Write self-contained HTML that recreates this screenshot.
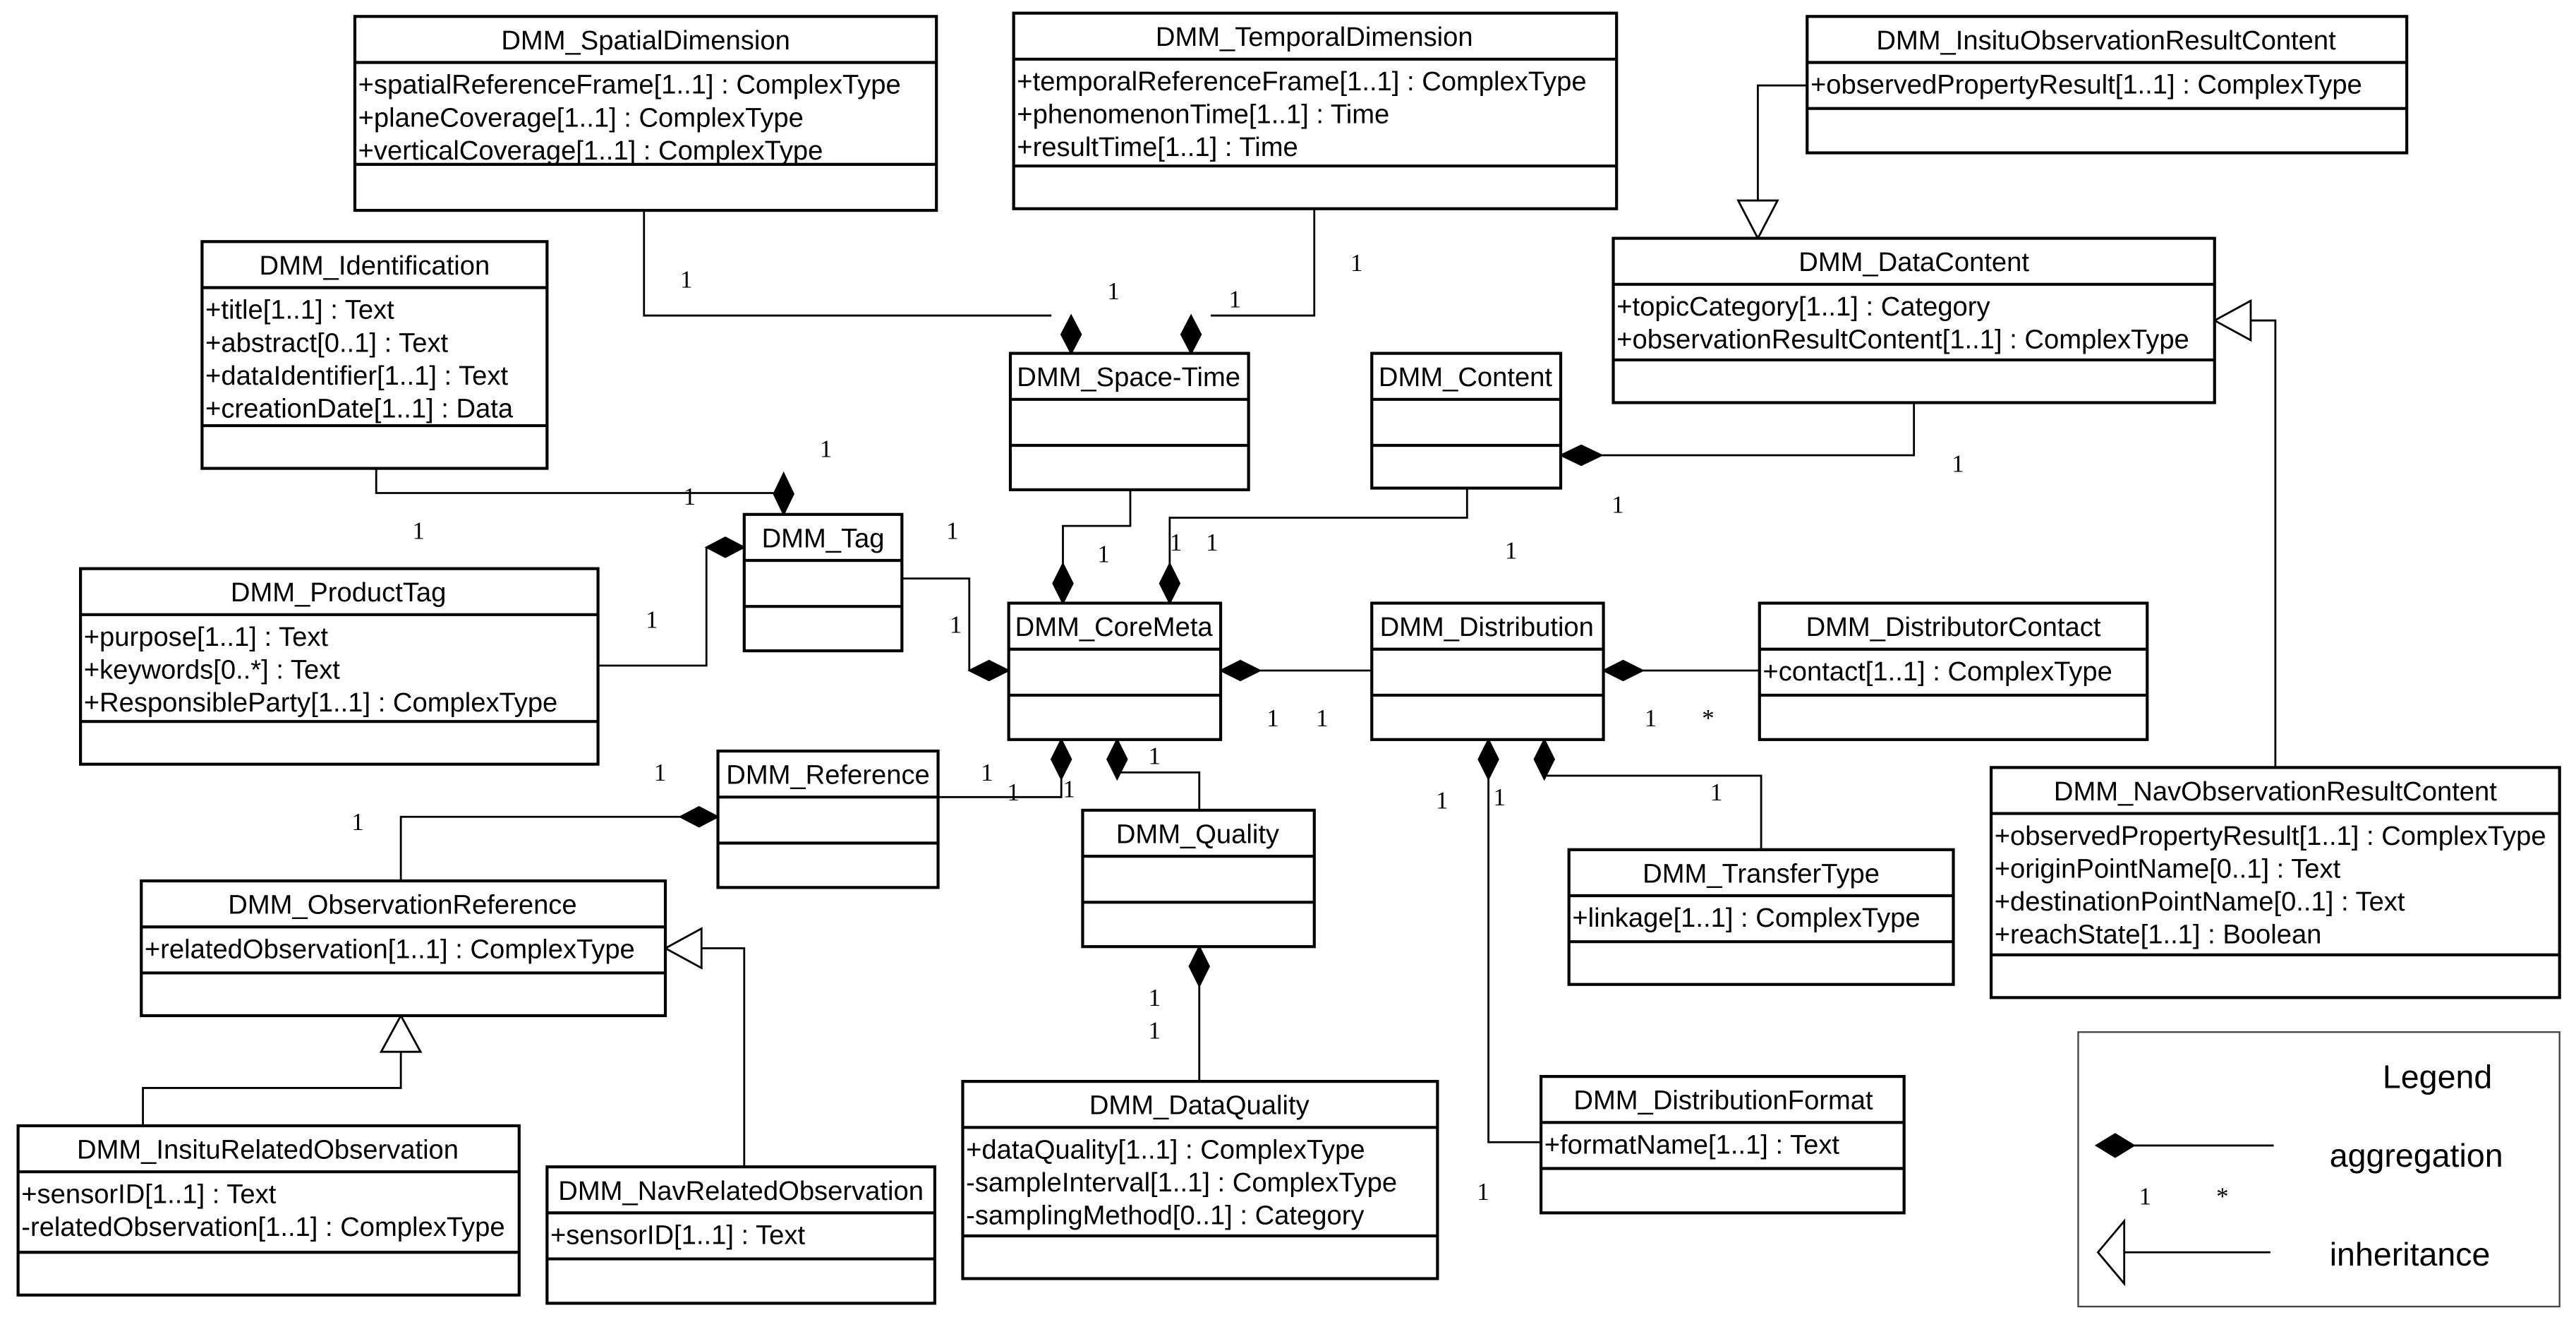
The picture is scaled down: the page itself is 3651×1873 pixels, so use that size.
<!DOCTYPE html>
<html><head><meta charset="utf-8"><style>
html,body{margin:0;padding:0;background:#fff;}
svg{display:block;}
text{font-family:"Liberation Sans",Arial,sans-serif;font-size:16.4px;fill:#000;}
.m{font-family:"Liberation Serif",serif;font-size:15px;}
.b{fill:#fff;stroke:#000;stroke-width:1.8;}
.d{stroke:#000;stroke-width:1.8;}
.l{fill:none;stroke:#000;stroke-width:1.2;}
.dm{fill:#000;stroke:#000;stroke-width:1;}
.tr{fill:#fff;stroke:#000;stroke-width:1.2;}
</style></head><body>
<svg width="3651" height="1873" viewBox="0 0 1568 804.4" xmlns="http://www.w3.org/2000/svg">
<!-- connectors -->
<polyline class="l" points="392,128 392,192 640,192"/>
<polygon class="dm" points="652,192 658,203.5 652,215 646,203.5"/>
<polyline class="l" points="800,127 800,192 737,192"/>
<polygon class="dm" points="725,192 731,203.5 725,215 719,203.5"/>
<polyline class="l" points="1100,52 1070,52 1070,122"/>
<polygon class="tr" points="1070,145 1058,122 1082,122"/>
<polyline class="l" points="1165,245 1165,277 975,277"/>
<polygon class="dm" points="950,277 962.5,271 975,277 962.5,283"/>
<polyline class="l" points="1385,467 1385,195 1370,195"/>
<polygon class="tr" points="1348,195 1370,183 1370,207"/>
<polyline class="l" points="229,285 229,300 471,300"/>
<polygon class="dm" points="477,288 483,300.5 477,313 471,300.5"/>
<polyline class="l" points="364,405 430,405 430,333"/>
<polygon class="dm" points="430,333 441.5,327 453,333 441.5,339"/>
<polyline class="l" points="549,352 590,352 590,408"/>
<polygon class="dm" points="590,408 602,402 614,408 602,414"/>
<polyline class="l" points="688,298 688,320 647,320 647,343"/>
<polygon class="dm" points="647,343 653,355 647,367 641,355"/>
<polyline class="l" points="893,297 893,315 712,315 712,343"/>
<polygon class="dm" points="712,343 718,355 712,367 706,355"/>
<polyline class="l" points="835,408 767,408"/>
<polygon class="dm" points="743,408 755,402 767,408 755,414"/>
<polyline class="l" points="1071,408 1000,408"/>
<polygon class="dm" points="976,408 988,402 1000,408 988,414"/>
<polyline class="l" points="571,485 646,485 646,474"/>
<polygon class="dm" points="646,450 652,462 646,474 640,462"/>
<polyline class="l" points="730,493 730,470 680,470"/>
<polygon class="dm" points="680,450 686,462 680,474 674,462"/>
<polyline class="l" points="244,536 244,497 414,497"/>
<polygon class="dm" points="414,497 425.5,491 437,497 425.5,503"/>
<polyline class="l" points="730,658 730,600"/>
<polygon class="dm" points="730,576 736,588 730,600 724,588"/>
<polyline class="l" points="906,474 906,695 938,695"/>
<polygon class="dm" points="906,450 912,462 906,474 900,462"/>
<polyline class="l" points="940,474 940,472 1072,472 1072,517"/>
<polygon class="dm" points="940,450 946,462 940,474 934,462"/>
<polyline class="l" points="87,685 87,662 244,662 244,640"/>
<polygon class="tr" points="244,618 232,640 256,640"/>
<polyline class="l" points="453,710 453,577 427,577"/>
<polygon class="tr" points="405,577 427,565 427,589"/>
<!-- multiplicities -->
<g class="m">
<text class="m" x="414" y="175">1</text><text class="m" x="674" y="182">1</text>
<text class="m" x="822" y="165">1</text><text class="m" x="748" y="187">1</text>
<text class="m" x="1188" y="287">1</text><text class="m" x="981" y="312">1</text>
<text class="m" x="499" y="278">1</text><text class="m" x="416" y="307">1</text><text class="m" x="251" y="328">1</text>
<text class="m" x="393" y="382">1</text>
<text class="m" x="576" y="328">1</text><text class="m" x="578" y="385">1</text>
<text class="m" x="668" y="342">1</text><text class="m" x="712" y="335">1</text><text class="m" x="734" y="335">1</text><text class="m" x="916" y="340">1</text>
<text class="m" x="771" y="442">1</text><text class="m" x="801" y="442">1</text>
<text class="m" x="1001" y="442">1</text><text class="m" x="1036" y="442">*</text>
<text class="m" x="597" y="475">1</text><text class="m" x="613" y="487">1</text><text class="m" x="647" y="485">1</text>
<text class="m" x="699" y="465">1</text>
<text class="m" x="214" y="505">1</text><text class="m" x="398" y="475">1</text>
<text class="m" x="699" y="612">1</text><text class="m" x="699" y="632">1</text>
<text class="m" x="874" y="492">1</text><text class="m" x="909" y="490">1</text><text class="m" x="899" y="730">1</text>
<text class="m" x="1041" y="487">1</text>
</g>
<!-- classes -->
<g>
<rect class="b" x="216" y="10" width="354" height="118"/><line class="d" x1="216" y1="38" x2="570" y2="38"/><line class="d" x1="216" y1="100" x2="570" y2="100"/>
<text x="393" y="30" text-anchor="middle">DMM_SpatialDimension</text>
<text x="218" y="57">+spatialReferenceFrame[1..1] : ComplexType</text><text x="218" y="77">+planeCoverage[1..1] : ComplexType</text><text x="218" y="97">+verticalCoverage[1..1] : ComplexType</text>

<rect class="b" x="617" y="8" width="367" height="119"/><line class="d" x1="617" y1="36" x2="984" y2="36"/><line class="d" x1="617" y1="101" x2="984" y2="101"/>
<text x="800" y="28" text-anchor="middle">DMM_TemporalDimension</text>
<text x="619" y="55">+temporalReferenceFrame[1..1] : ComplexType</text><text x="619" y="75">+phenomenonTime[1..1] : Time</text><text x="619" y="95">+resultTime[1..1] : Time</text>

<rect class="b" x="1100" y="10" width="365" height="83"/><line class="d" x1="1100" y1="38" x2="1465" y2="38"/><line class="d" x1="1100" y1="66" x2="1465" y2="66"/>
<text x="1282" y="30" text-anchor="middle">DMM_InsituObservationResultContent</text>
<text x="1102" y="57">+observedPropertyResult[1..1] : ComplexType</text>

<rect class="b" x="982" y="145" width="366" height="100"/><line class="d" x1="982" y1="173" x2="1348" y2="173"/><line class="d" x1="982" y1="219" x2="1348" y2="219"/>
<text x="1165" y="165" text-anchor="middle">DMM_DataContent</text>
<text x="984" y="192">+topicCategory[1..1] : Category</text><text x="984" y="212">+observationResultContent[1..1] : ComplexType</text>

<rect class="b" x="123" y="147" width="210" height="138"/><line class="d" x1="123" y1="175" x2="333" y2="175"/><line class="d" x1="123" y1="259" x2="333" y2="259"/>
<text x="228" y="167" text-anchor="middle">DMM_Identification</text>
<text x="125" y="194">+title[1..1] : Text</text><text x="125" y="214">+abstract[0..1] : Text</text><text x="125" y="234">+dataIdentifier[1..1] : Text</text><text x="125" y="254">+creationDate[1..1] : Data</text>

<rect class="b" x="615" y="215" width="145" height="83"/><line class="d" x1="615" y1="243" x2="760" y2="243"/><line class="d" x1="615" y1="271" x2="760" y2="271"/>
<text x="687" y="235" text-anchor="middle">DMM_Space-Time</text>

<rect class="b" x="835" y="215" width="115" height="82"/><line class="d" x1="835" y1="243" x2="950" y2="243"/><line class="d" x1="835" y1="271" x2="950" y2="271"/>
<text x="892" y="235" text-anchor="middle">DMM_Content</text>

<rect class="b" x="453" y="313" width="96" height="83"/><line class="d" x1="453" y1="341" x2="549" y2="341"/><line class="d" x1="453" y1="369" x2="549" y2="369"/>
<text x="501" y="333" text-anchor="middle">DMM_Tag</text>

<rect class="b" x="49" y="346" width="315" height="119"/><line class="d" x1="49" y1="374" x2="364" y2="374"/><line class="d" x1="49" y1="439" x2="364" y2="439"/>
<text x="206" y="366" text-anchor="middle">DMM_ProductTag</text>
<text x="51" y="393">+purpose[1..1] : Text</text><text x="51" y="413">+keywords[0..*] : Text</text><text x="51" y="433">+ResponsibleParty[1..1] : ComplexType</text>

<rect class="b" x="614" y="367" width="129" height="83"/><line class="d" x1="614" y1="395" x2="743" y2="395"/><line class="d" x1="614" y1="423" x2="743" y2="423"/>
<text x="678" y="387" text-anchor="middle">DMM_CoreMeta</text>

<rect class="b" x="835" y="367" width="141" height="83"/><line class="d" x1="835" y1="395" x2="976" y2="395"/><line class="d" x1="835" y1="423" x2="976" y2="423"/>
<text x="905" y="387" text-anchor="middle">DMM_Distribution</text>

<rect class="b" x="1071" y="367" width="236" height="83"/><line class="d" x1="1071" y1="395" x2="1307" y2="395"/><line class="d" x1="1071" y1="423" x2="1307" y2="423"/>
<text x="1189" y="387" text-anchor="middle">DMM_DistributorContact</text>
<text x="1073" y="414">+contact[1..1] : ComplexType</text>

<rect class="b" x="437" y="457" width="134" height="83"/><line class="d" x1="437" y1="485" x2="571" y2="485"/><line class="d" x1="437" y1="513" x2="571" y2="513"/>
<text x="504" y="477" text-anchor="middle">DMM_Reference</text>

<rect class="b" x="659" y="493" width="141" height="83"/><line class="d" x1="659" y1="521" x2="800" y2="521"/><line class="d" x1="659" y1="549" x2="800" y2="549"/>
<text x="729" y="513" text-anchor="middle">DMM_Quality</text>

<rect class="b" x="86" y="536" width="319" height="82"/><line class="d" x1="86" y1="564" x2="405" y2="564"/><line class="d" x1="86" y1="592" x2="405" y2="592"/>
<text x="245" y="556" text-anchor="middle">DMM_ObservationReference</text>
<text x="88" y="583">+relatedObservation[1..1] : ComplexType</text>

<rect class="b" x="955" y="517" width="234" height="82"/><line class="d" x1="955" y1="545" x2="1189" y2="545"/><line class="d" x1="955" y1="573" x2="1189" y2="573"/>
<text x="1072" y="537" text-anchor="middle">DMM_TransferType</text>
<text x="957" y="564">+linkage[1..1] : ComplexType</text>

<rect class="b" x="1212" y="467" width="346" height="140"/><line class="d" x1="1212" y1="495" x2="1558" y2="495"/><line class="d" x1="1212" y1="581" x2="1558" y2="581"/>
<text x="1385" y="487" text-anchor="middle">DMM_NavObservationResultContent</text>
<text x="1214" y="514">+observedPropertyResult[1..1] : ComplexType</text><text x="1214" y="534">+originPointName[0..1] : Text</text><text x="1214" y="554">+destinationPointName[0..1] : Text</text><text x="1214" y="574">+reachState[1..1] : Boolean</text>

<rect class="b" x="586" y="658" width="289" height="120"/><line class="d" x1="586" y1="686" x2="875" y2="686"/><line class="d" x1="586" y1="752" x2="875" y2="752"/>
<text x="730" y="678" text-anchor="middle">DMM_DataQuality</text>
<text x="588" y="705">+dataQuality[1..1] : ComplexType</text><text x="588" y="725">-sampleInterval[1..1] : ComplexType</text><text x="588" y="745">-samplingMethod[0..1] : Category</text>

<rect class="b" x="938" y="655" width="221" height="83"/><line class="d" x1="938" y1="683" x2="1159" y2="683"/><line class="d" x1="938" y1="711" x2="1159" y2="711"/>
<text x="1049" y="675" text-anchor="middle">DMM_DistributionFormat</text>
<text x="940" y="702">+formatName[1..1] : Text</text>

<rect class="b" x="11" y="685" width="305" height="103"/><line class="d" x1="11" y1="713" x2="316" y2="713"/><line class="d" x1="11" y1="762" x2="316" y2="762"/>
<text x="163" y="705" text-anchor="middle">DMM_InsituRelatedObservation</text>
<text x="13" y="732">+sensorID[1..1] : Text</text><text x="13" y="752">-relatedObservation[1..1] : ComplexType</text>

<rect class="b" x="333" y="710" width="236" height="83"/><line class="d" x1="333" y1="738" x2="569" y2="738"/><line class="d" x1="333" y1="766" x2="569" y2="766"/>
<text x="451" y="730" text-anchor="middle">DMM_NavRelatedObservation</text>
<text x="335" y="757">+sensorID[1..1] : Text</text>
</g>
<!-- legend -->
<rect x="1265" y="628" width="293" height="167" fill="#fff" stroke="#444" stroke-width="1"/>
<text x="1517" y="662" text-anchor="end" style="font-size:20px">Legend</text>
<polygon class="dm" points="1276,697 1287.5,690 1299,697 1287.5,704"/>
<line class="l" x1="1299" y1="697" x2="1384" y2="697"/>
<text x="1418" y="710" style="font-size:20px">aggregation</text>
<text class="m" x="1302" y="733">1</text><text class="m" x="1349" y="733">*</text>
<polygon class="tr" points="1277,762 1293,743 1293,781"/>
<line class="l" x1="1293" y1="762" x2="1382" y2="762"/>
<text x="1418" y="770" style="font-size:20px">inheritance</text>
</svg>
</body></html>
